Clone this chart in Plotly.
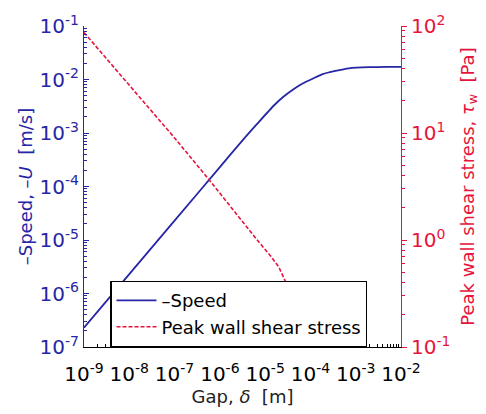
import plotly.graph_objects as go

# ---- data ----
gap_speed = [1e-9, 1e-8, 1e-7, 1e-6, 3e-6, 6.8e-6, 1.58e-5, 2.57e-5, 4.47e-5, 6.9e-5,
             1.12e-4, 1.86e-4, 3.55e-4, 7.1e-4, 2.0e-3, 5.0e-3, 1e-2]
neg_speed = [2.3e-7, 2.3e-6, 2.3e-5, 2.3e-4, 6.9e-4, 1.51e-3, 3.3e-3, 4.8e-3, 6.8e-3, 8.5e-3,
             1.035e-2, 1.26e-2, 1.45e-2, 1.62e-2, 1.70e-2, 1.72e-2, 1.72e-2]

gap_tau = [1e-9, 1e-8, 1e-7, 5.75e-7, 1.41e-6, 3.1e-6, 6.3e-6, 1.35e-5, 2.0e-5, 2.8e-5,
           3.98e-5, 6.3e-5, 1e-4, 1.41e-4]
peak_tau = [87, 28, 9.0, 3.67, 2.26, 1.48, 1.03, 0.70, 0.56, 0.41,
            0.316, 0.19, 0.10, 0.063]

x_exps = [-9, -8, -7, -6, -5, -4, -3, -2]
yl_exps = [-7, -6, -5, -4, -3, -2, -1]
yr_exps = [-1, 0, 1, 2]

BLUE = "#2626A6"
RED = "#E6143C"
FONT = "DejaVu Sans"

def ticks(exps):
    return [10.0 ** e for e in exps], ["10<sup>%d</sup>" % e for e in exps]

def minors(exps):
    return [m * 10.0 ** e for e in exps[:-1] for m in range(2, 10)]

fig = go.Figure()
fig.add_trace(go.Scatter(x=gap_speed, y=neg_speed, mode="lines", name="\u2013Speed",
                         line=dict(color=BLUE, width=1.8, shape="spline", smoothing=0.6), yaxis="y"))
fig.add_trace(go.Scatter(x=gap_tau, y=peak_tau, mode="lines", name="Peak wall shear stress",
                         line=dict(color=RED, width=1.6, dash="4px,2px"), yaxis="y2"))

xv, xt = ticks(x_exps)
ylv, ylt = ticks(yl_exps)
yrv, yrt = ticks(yr_exps)

fig.update_layout(
    width=486, height=414,
    margin=dict(l=84, r=75, t=24, b=64),
    paper_bgcolor="white", plot_bgcolor="white",
    font=dict(family=FONT, size=16, color="black"),
    showlegend=True,
    legend=dict(x=0.083, y=0.0, xanchor="left", yanchor="bottom",
                bgcolor="white", bordercolor="black", borderwidth=1.2,
                font=dict(family=FONT, size=18, color="black"),
                tracegroupgap=0, itemwidth=40),
    xaxis=dict(type="log", range=[-9, -2], tickmode="array", tickvals=xv, ticktext=xt,
               showline=True, linecolor="black", linewidth=1.2, mirror=False,
               ticks="inside", ticklen=5, tickcolor="black", showgrid=False, zeroline=False,
               tickfont=dict(family=FONT, size=20, color="black"), ticklabelstandoff=9,
               minor=dict(tickmode="array", tickvals=minors(x_exps), ticks="inside", ticklen=3,
                          tickcolor="black", showgrid=False),
               title=dict(text="Gap, <i>\u03b4</i>\u00a0 [m]", font=dict(family=FONT, size=18, color="#222222"),
                          standoff=3)),
    yaxis=dict(type="log", range=[-7, -1], tickmode="array", tickvals=ylv, ticktext=ylt,
               showline=True, linecolor=BLUE, linewidth=1.2,
               ticks="inside", ticklen=5, tickcolor=BLUE, showgrid=False, zeroline=False,
               tickfont=dict(family=FONT, size=20, color=BLUE),
               minor=dict(tickmode="array", tickvals=minors(yl_exps), ticks="inside", ticklen=3,
                          tickcolor=BLUE, showgrid=False),
               title=dict(text="\u2013Speed, \u2013<i>U</i>\u00a0 [m/s]", font=dict(family=FONT, size=18, color=BLUE),
                          standoff=2)),
    yaxis2=dict(type="log", range=[-1, 2], tickmode="array", tickvals=yrv, ticktext=yrt,
                overlaying="y", side="right",
                showline=True, linecolor=RED, linewidth=1.2,
                ticks="outside", ticklen=5, tickcolor=RED, showgrid=False, zeroline=False,
                tickfont=dict(family=FONT, size=20, color=RED),
                minor=dict(tickmode="array", tickvals=minors(yr_exps), ticks="outside", ticklen=3,
                           tickcolor=RED, showgrid=False),
                title=dict(text="Peak wall shear stress, <i>\u03c4</i><sub>w</sub>\u00a0 [Pa]",
                           font=dict(family=FONT, size=18, color=RED), standoff=11)),
)

fig.write_html("out.html")
